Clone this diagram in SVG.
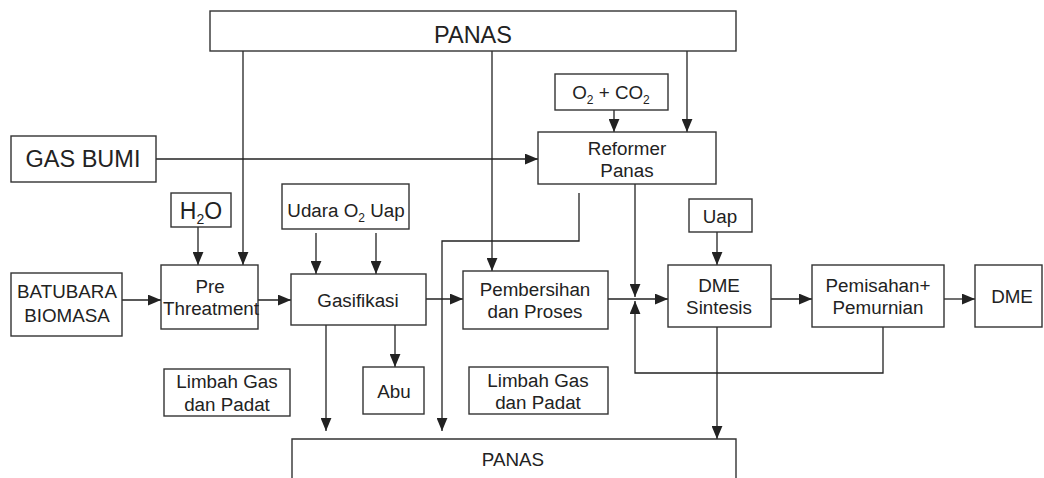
<svg xmlns="http://www.w3.org/2000/svg" width="1044" height="478" viewBox="0 0 1044 478">
<defs>
<marker id="ah" viewBox="0 0 12 10" refX="12" refY="5" markerWidth="13" markerHeight="11" markerUnits="userSpaceOnUse" orient="auto">
<path d="M0,0 L12,5 L0,10 z" fill="#222"/>
</marker>
<style>
.box{fill:#fff;stroke:#333;stroke-width:1.4}
.t{font-family:"Liberation Sans",Arial,sans-serif;font-size:18.8px;fill:#222;text-anchor:middle}
.c{fill:none;stroke:#222;stroke-width:1.3}
.a{marker-end:url(#ah)}
</style>
</defs>
<rect width="1044" height="478" fill="#fff"/>

<g id="connectors">
<path class="c a" d="M243,51 V265"/>
<path class="c a" d="M492,51 V271"/>
<path class="c a" d="M687,51 V132"/>
<path class="c a" d="M156,159 H538"/>
<path class="c a" d="M614,110 V132"/>
<path class="c a" d="M198,227 V265"/>
<path class="c a" d="M122,300 H161"/>
<path class="c a" d="M258,300 H291"/>
<path class="c a" d="M316,233 V274"/>
<path class="c a" d="M376,233 V274"/>
<path class="c a" d="M426,299 H463"/>
<path class="c a" d="M579,193 V241 H442 V431"/>
<path class="c a" d="M326,325 V431"/>
<path class="c a" d="M395,325 V367"/>
<path class="c a" d="M635,184 V297"/>
<path class="c a" d="M608,299 H668"/>
<path class="c a" d="M883,327 V373 H635 V301"/>
<path class="c a" d="M717,232 V265"/>
<path class="c a" d="M771,299 H812"/>
<path class="c a" d="M944,299 H975"/>
<path class="c a" d="M717,327 V439"/>
</g>

<g id="panas-top">
<rect class="box" x="210" y="11" width="526" height="40"/>
<text class="t" x="473" y="43" style="font-size:23.5px">PANAS</text>
</g>
<g id="gas-bumi">
<rect class="box" x="11" y="136" width="145" height="46"/>
<text class="t" x="83" y="167" style="font-size:23.5px">GAS BUMI</text>
</g>
<g id="h2o">
<rect class="box" x="171" y="193" width="60" height="34"/>
<text class="t" x="201" y="219" style="font-size:23px">H<tspan dy="5" style="font-size:14px">2</tspan><tspan dy="-5">O</tspan></text>
</g>
<g id="batubara">
<rect class="box" x="11" y="273" width="111" height="63"/>
<text class="t" x="67" y="298">BATUBARA</text>
<text class="t" x="67" y="322">BIOMASA</text>
</g>
<g id="pre">
<rect class="box" x="161" y="265" width="97" height="64"/>
<text class="t" x="210" y="293">Pre</text>
<text class="t" x="211" y="315">Threatment</text>
</g>
<g id="udara">
<rect class="box" x="282" y="184" width="127" height="45"/>
<text class="t" x="346" y="217">Udara O<tspan dy="5" style="font-size:12px">2</tspan><tspan dy="-5"> Uap</tspan></text>
</g>
<g id="gasifikasi">
<rect class="box" x="291" y="274" width="135" height="51"/>
<text class="t" x="358" y="307">Gasifikasi</text>
</g>
<g id="o2co2">
<rect class="box" x="555" y="74" width="113" height="36"/>
<text class="t" x="611" y="99">O<tspan dy="5" style="font-size:12px">2</tspan><tspan dy="-5"> + CO</tspan><tspan dy="5" style="font-size:12px">2</tspan></text>
</g>
<g id="reformer">
<rect class="box" x="538" y="132" width="178" height="52"/>
<text class="t" x="627" y="155">Reformer</text>
<text class="t" x="627" y="177">Panas</text>
</g>
<g id="pembersihan">
<rect class="box" x="463" y="271" width="145" height="58"/>
<text class="t" x="535" y="296">Pembersihan</text>
<text class="t" x="535" y="318">dan Proses</text>
</g>
<g id="uap">
<rect class="box" x="689" y="199" width="63" height="33"/>
<text class="t" x="720" y="223">Uap</text>
</g>
<g id="dme-sintesis">
<rect class="box" x="668" y="265" width="103" height="62"/>
<text class="t" x="719" y="292">DME</text>
<text class="t" x="719" y="314">Sintesis</text>
</g>
<g id="pemisahan">
<rect class="box" x="812" y="265" width="132" height="62"/>
<text class="t" x="878" y="292">Pemisahan+</text>
<text class="t" x="878" y="314">Pemurnian</text>
</g>
<g id="dme">
<rect class="box" x="975" y="265" width="67" height="62"/>
<text class="t" x="1012" y="303">DME</text>
</g>
<g id="limbah-1">
<rect class="box" x="164" y="369" width="126" height="47"/>
<text class="t" x="227" y="388">Limbah Gas</text>
<text class="t" x="227" y="411">dan Padat</text>
</g>
<g id="abu">
<rect class="box" x="363" y="367" width="61" height="47"/>
<text class="t" x="394" y="398">Abu</text>
</g>
<g id="limbah-2">
<rect class="box" x="469" y="367" width="139" height="47"/>
<text class="t" x="538" y="387">Limbah Gas</text>
<text class="t" x="538" y="409">dan Padat</text>
</g>
<g id="panas-bottom">
<path class="box" d="M292,480 V439 H736 V480"/>
<text class="t" x="513" y="466">PANAS</text>
</g>
</svg>
